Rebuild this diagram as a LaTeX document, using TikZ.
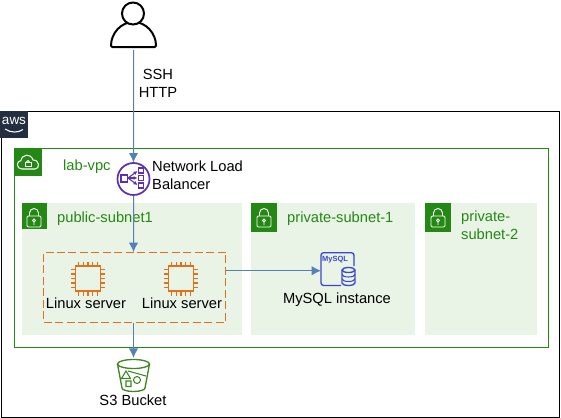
\documentclass[tikz,border=0pt]{standalone}
\usepackage{fontspec}
\setmainfont{Liberation Sans}
\usetikzlibrary{arrows.meta}
\definecolor{awsgreen}{HTML}{248814}
\definecolor{subnetfill}{HTML}{E9F3E6}
\definecolor{awsorange}{HTML}{E0701A}
\definecolor{awsdark}{HTML}{232F3E}
\definecolor{linkblue}{HTML}{5580B5}
\definecolor{nlbpurple}{HTML}{5A30B5}
\definecolor{dbblue}{HTML}{3B48CC}
\definecolor{bucketgreen}{HTML}{3F8624}
\tikzset{
    areabox/.style={draw, rectangle, inner sep=0pt, anchor=north west, line width=0.8pt},
    subnetbox/.style={rectangle, inner sep=0pt, anchor=north west, fill=subnetfill},
    iconbox/.style={rectangle, inner sep=0pt, fill=awsgreen, anchor=north west},
    symbol/.style={rectangle, inner sep=0pt},
    label/.style={inner sep=0pt, align=left, font=\fontsize{14.7}{18}\selectfont},
    greenlabel/.style={label, anchor=west, text=awsgreen},
    link/.style={draw=linkblue, line width=0.75pt, -{Latex[length=7pt,width=7pt]}},
    pics/lock/.style={code={
        \draw[white, line width=0.7pt, rounded corners=1pt] (6,13) rectangle (20,24);
        \draw[white, line width=0.7pt] (8.5,13) -- (8.5,10) arc[start angle=180, end angle=360, radius=4.5] -- (17.5,13);
        \draw[white, line width=0.6pt] (13,17.5) circle (1.5) (13,19) -- (13,22);
    }},
    pics/chip/.style={code={
        \draw[awsorange, line width=1.4pt] (-12.5,-12.5) rectangle (12.5,12.5);
        \foreach \i in {-2,...,2} {
            \draw[awsorange, line width=1pt] (\i*4.6,-17) -- (\i*4.6,-12.5) (\i*4.6,12.5) -- (\i*4.6,17);
            \draw[awsorange, line width=1pt] (-17,\i*4.6) -- (-12.5,\i*4.6) (12.5,\i*4.6) -- (17,\i*4.6);
        }
    }},
}
\begin{document}
\begin{tikzpicture}[x=1pt, y=-1pt, scale=0.75, transform shape]
    \useasboundingbox (0,0) rectangle (561,418);

    % Areas
    \node[areabox, minimum width=558pt, minimum height=306pt] (cloud) at (1,111) {};
    \node[areabox, draw=awsgreen, minimum width=534pt, minimum height=199pt] (vpc) at (14,148) {};
    \node[subnetbox, minimum width=220pt, minimum height=132pt] (public) at (22,203) {};
    \node[subnetbox, minimum width=164pt, minimum height=132pt] (private1) at (251,203) {};
    \node[subnetbox, minimum width=112pt, minimum height=132pt] (private2) at (425,203) {};

    % AWS logo
    \node[rectangle, inner sep=0pt, fill=awsdark, anchor=north west, minimum width=28pt, minimum height=27pt] (logo) at (0,110.5) {};
    \node[inner sep=0pt, text=white, font=\fontsize{13.5}{14}\selectfont] (logotext) at (14,120.5) {aws};
    \draw[white, line width=0.8pt] (5,129) .. controls (11,133) and (18,133) .. (23,129.5);

    % Group icons
    \node[iconbox, minimum width=28pt, minimum height=28pt] (vpcicon) at (14,148) {};
    \draw[white, line width=0.8pt] (22,169) .. controls (16,169) and (16,161) .. (21,160.5)
        .. controls (22,154) and (31,153) .. (33,160) .. controls (40,160) and (40,169) .. (35,169) -- cycle;
    \draw[white, line width=0.7pt] (25,162) rectangle (31,166.5);
    \draw[white, line width=0.6pt] (26.5,162) arc[start angle=180, end angle=360, radius=1.5];
    \node[iconbox, minimum width=25pt, minimum height=26pt] (publicicon) at (22,203) {};
    \pic at (21,203) {lock};
    \node[iconbox, minimum width=26pt, minimum height=29pt] (private1icon) at (251,203) {};
    \pic at (251,203) {lock};
    \node[iconbox, minimum width=26pt, minimum height=29pt] (private2icon) at (425,203) {};
    \pic at (425,203) {lock};

    % Area labels
    \node[greenlabel] (vpclabel) at (63,167) {lab-vpc};
    \node[greenlabel] (publiclabel) at (57,219) {public-subnet1};
    \node[greenlabel] (private1label) at (287,219) {private-subnet-1};
    \node[greenlabel, anchor=north west] (private2label) at (461,210.5) {private-\\subnet-2};

    % User
    \node[symbol, minimum width=46pt, minimum height=48pt] (user) at (133.5,26) {};
    \draw[black, line width=1.5pt, rounded corners=1pt, fill=white] (111,47) arc[start angle=180, end angle=360, x radius=22.5, y radius=25] -- cycle;
    \draw[black, line width=1.5pt, fill=white] (133,13.5) circle (11);
    \node[label, align=center] (proto) at (158,83.5) {SSH\\HTTP};

    % Load balancer
    \node[circle, draw=nlbpurple, fill=white, line width=1.3pt, inner sep=0pt, minimum size=32pt] (nlb) at (133.5,179) {};
    \draw[nlbpurple, line width=0.8pt] (121,175) rectangle (127.5,182);
    \draw[nlbpurple, line width=0.8pt] (138.5,168) rectangle (143.5,173);
    \draw[nlbpurple, line width=0.8pt] (138.5,175.5) rectangle (143.5,180.5);
    \draw[nlbpurple, line width=0.8pt] (138.5,183) rectangle (143.5,188);
    \draw[nlbpurple, line width=0.8pt, -{Latex[length=3pt,width=3pt]}] (128,178) -- (137.5,171);
    \draw[nlbpurple, line width=0.8pt, -{Latex[length=3pt,width=3pt]}] (128,178) -- (137.5,178);
    \draw[nlbpurple, line width=0.8pt, -{Latex[length=3pt,width=3pt]}] (128,178) -- (137.5,185);
    \node[label, anchor=north west] (nlblabel) at (152,160.5) {Network Load\\Balancer};

    % Servers
    \node[draw=awsorange, rectangle, dash pattern=on 6pt off 2.6pt, line width=1.1pt, inner sep=0pt, anchor=north west, minimum width=182pt, minimum height=70pt] (servers) at (43,252) {};
    \node[symbol, minimum size=34pt] (chip1) at (88,278.5) {};
    \pic at (88,278.5) {chip};
    \node[symbol, minimum size=34pt] (chip2) at (181,278.5) {};
    \pic at (181,278.5) {chip};
    \node[label] (chip1label) at (86,303.5) {Linux server};
    \node[label] (chip2label) at (182,303.5) {Linux server};

    % Database
    \node[symbol, minimum width=34pt, minimum height=34pt, anchor=north west] (mysql) at (321,253.5) {};
    \draw[dbblue, line width=1pt, rounded corners=2pt] (341,285.5) -- (321,285.5) -- (321,252.7) -- (354,252.7) -- (354,266);
    \node[inner sep=0pt, text=dbblue, font=\fontsize{7.5}{8}\bfseries\selectfont] (mysqltext) at (335,260) {MySQL};
    \draw[dbblue, line width=1pt, fill=subnetfill] (342,270) -- (342,283) arc[start angle=180, end angle=0, x radius=6.5, y radius=2.5] -- (355,270);
    \draw[dbblue, line width=1pt, fill=subnetfill] (348.5,270) ellipse (6.5 and 2.5);
    \draw[dbblue, line width=0.8pt] (342,274.5) arc[start angle=180, end angle=0, x radius=6.5, y radius=2.5];
    \draw[dbblue, line width=0.8pt] (342,279) arc[start angle=180, end angle=0, x radius=6.5, y radius=2.5];
    \node[label] (mysqllabel) at (337,300) {MySQL instance};

    % Bucket
    \node[symbol, minimum width=33pt, minimum height=34pt] (s3) at (133.5,375) {};
    \draw[bucketgreen, line width=1pt] (133.5,364) ellipse (16 and 4.5);
    \draw[bucketgreen, line width=1pt] (117.5,364) -- (122,388) arc[start angle=180, end angle=0, x radius=11.5, y radius=3.5] -- (149.5,364);
    \draw[bucketgreen, line width=0.8pt] (121.5,378.5) -- (126,371) -- (130.5,378.5) -- cycle;
    \draw[bucketgreen, line width=0.8pt] (126,381) rectangle (131,386.5) (137,380) circle (3.5);
    \draw[bucketgreen, line width=0.8pt] (128,371) -- (146,376);
    \node[label] (s3label) at (133,400) {S3 Bucket};

    % Arrows
    \draw[link] (user) -- (nlb);
    \draw[link] (nlb) -- (nlb |- servers.north);
    \draw[link] (servers.east |- mysql.west) -- (mysql.west);
    \draw[link] (nlb |- servers.south) -- (s3.north -| nlb);
\end{tikzpicture}
\end{document}
